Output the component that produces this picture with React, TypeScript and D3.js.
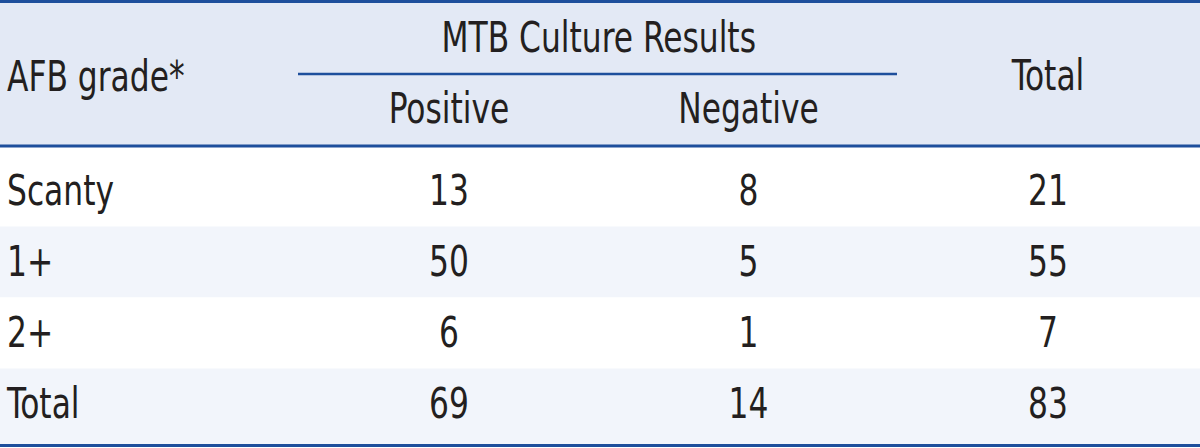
import React from "react";
import * as d3 from "d3";

const categories = ["Scanty", "1+", "2+", "Total"];
const positive = [13, 50, 6, 69];
const negative = [8, 5, 1, 14];
const totals = [21, 55, 7, 83];
const headerGroup = "MTB Culture Results";
const headerCols = ["AFB grade*", "Positive", "Negative", "Total"];

const W = 1200;
const H = 448;
const FONT = "'DejaVu Sans Condensed', 'Liberation Sans Narrow', sans-serif";
const FS = 43;
const SX = 0.81;
const TEXT = "#231f20";
const LINE = "#1e4f9c";
const HEAD_BG = "#e3e9f5";
const ALT_BG = "#f2f5fb";

const colX = d3.scalePoint<string>().domain(["Positive", "Negative", "Total"]).range([449, 1048]);
const rowY = d3.scaleLinear().domain([0, categories.length - 1]).range([205, 418]);

function T({ x, y, anchor = "middle", children }: { x: number; y: number; anchor?: string; children: React.ReactNode }) {
  return (
    <text
      transform={`translate(${x},${y}) scale(${SX},1)`}
      textAnchor={anchor as any}
      fontFamily={FONT}
      fontSize={FS}
      fill={TEXT}
    >
      {children}
    </text>
  );
}

export default function App() {
  const n = categories.length;
  const bounds: number[] = [147];
  for (let i = 0; i < n - 1; i++) bounds.push((rowY(i) + rowY(i + 1)) / 2 - 14);
  bounds.push(444);
  return (
    <svg width={W} height={H} style={{ position: "absolute", left: 0, top: 0, display: "block" }}>
      <rect x={0} y={0} width={W} height={H} fill="#ffffff" />
      <rect x={0} y={0} width={W} height={146} fill={HEAD_BG} />
      {categories.map((c, i) => (
        <rect key={"bg" + c} x={0} y={bounds[i]} width={W} height={bounds[i + 1] - bounds[i]} fill={i % 2 === 1 ? ALT_BG : "#ffffff"} />
      ))}
      <line x1={0} x2={W} y1={1.5} y2={1.5} stroke={LINE} strokeWidth={3} />
      <line x1={0} x2={W} y1={146} y2={146} stroke={LINE} strokeWidth={3} />
      <line x1={298} x2={897} y1={74} y2={74} stroke={LINE} strokeWidth={2.5} />
      <line x1={0} x2={W} y1={445.5} y2={445.5} stroke={LINE} strokeWidth={3} />

      <T x={7} y={91} anchor="start">{headerCols[0]}</T>
      <T x={(colX("Positive")! + colX("Negative")!) / 2} y={52}>{headerGroup}</T>
      <T x={colX("Positive")!} y={123}>{headerCols[1]}</T>
      <T x={colX("Negative")!} y={123}>{headerCols[2]}</T>
      <T x={colX("Total")!} y={90}>{headerCols[3]}</T>

      {categories.map((c, i) => (
        <g key={c}>
          <T x={7} y={rowY(i)} anchor="start">{c}</T>
          <T x={colX("Positive")!} y={rowY(i)}>{positive[i]}</T>
          <T x={colX("Negative")!} y={rowY(i)}>{negative[i]}</T>
          <T x={colX("Total")!} y={rowY(i)}>{totals[i]}</T>
        </g>
      ))}
    </svg>
  );
}
